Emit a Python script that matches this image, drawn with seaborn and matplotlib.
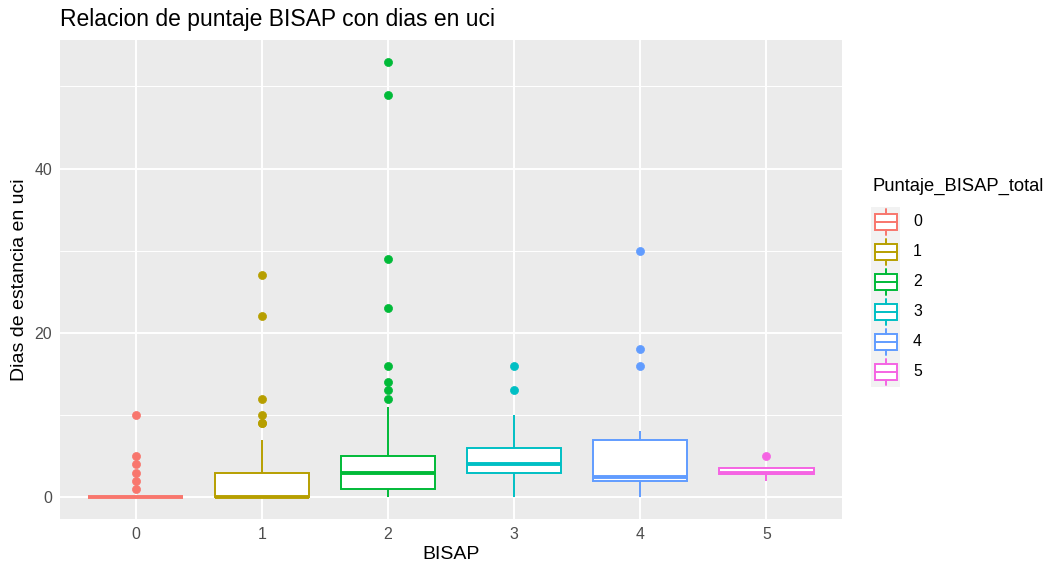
import numpy as np
import pandas as pd
import matplotlib
matplotlib.use("Agg")
import matplotlib.pyplot as plt
from matplotlib.ticker import FixedLocator
from matplotlib.patches import Rectangle
from matplotlib.lines import Line2D
import seaborn as sns

# ---------------- data ----------------
categories = ["0", "1", "2", "3", "4", "5"]
colors = ["#F8766D", "#B79F00", "#00BA38", "#00BFC4", "#619CFF", "#F564E3"]

dias_0 = [0, 0, 0, 0, 0, 0, 0, 0, 0, 0, 0, 0, 0, 0, 0, 0, 0, 0, 0, 0,
          0, 0, 0, 0, 0, 0, 0, 0, 0, 0, 1, 2, 3, 4, 5, 10]
dias_1 = [0, 0, 0, 0, 0, 0, 0, 0, 0, 0, 0, 0, 0, 0, 0, 0, 0, 0, 0, 0, 0,
          1, 1, 1, 2, 2, 2, 3, 3, 3, 3, 4, 5, 7, 9, 9, 10, 12, 22, 27]
dias_2 = [0, 0, 0, 0, 0, 0, 0, 0, 0, 0,
          1, 1, 1, 1, 1, 1, 1, 1, 1, 1,
          2, 2, 2, 2, 2, 2, 2, 2,
          3, 3, 3, 3, 3, 3, 3, 3, 3, 3,
          4, 4, 4, 4, 4, 4,
          5, 5, 5, 5,
          6, 7, 8, 9, 11, 12, 13, 14, 16, 23, 29, 49, 53]
dias_3 = [0, 1, 2, 3, 3, 3, 3, 4, 4, 4, 4, 4, 4, 5, 5, 6, 6, 6, 6,
          7, 8, 9, 10, 13, 16]
dias_4 = [0, 2, 2, 2, 2, 2, 2, 3, 4, 4, 8, 16, 18, 30]
dias_5 = [2, 2.75, 3, 3, 3.5, 3.5, 5]

groups = [dias_0, dias_1, dias_2, dias_3, dias_4, dias_5]

title = "Relacion de puntaje BISAP con dias en uci"
x_label = "BISAP"
y_label = "Dias de estancia en uci"
legend_title = "Puntaje_BISAP_total"
y_ticks = [0, 20, 40]
y_minor = [10, 30, 50]

df = pd.DataFrame({
    "BISAP": [c for c, g in zip(categories, groups) for _ in g],
    "dias": [v for g in groups for v in g],
})

# ---------------- style ----------------
sns.set_theme(style="white")
plt.rcParams["font.family"] = ["Liberation Sans", "DejaVu Sans"]

W, H = 1052, 567
fig = plt.figure(figsize=(W / 100, H / 100), dpi=100)
fig.patch.set_facecolor("white")
ax = fig.add_axes([60 / W, 1 - 519 / H, (842 - 60) / W, (519 - 40) / H])
ax.set_facecolor("#EBEBEB")

palette = dict(zip(categories, colors))
sns.boxplot(data=df, x="BISAP", y="dias", hue="BISAP", order=categories,
            hue_order=categories, palette=palette, saturation=1, width=0.75,
            dodge=False, linewidth=1.4, showcaps=False, legend=False, ax=ax,
            flierprops=dict(marker="o", markersize=5.8),
            medianprops=dict(linewidth=2.8))

# ggplot-like boxes: white fill, coloured outline/whiskers/median/outliers
for p in ax.patches:
    fc = p.get_facecolor()
    p.set_edgecolor(fc)
    p.set_facecolor("white")
    p.set_linewidth(1.4)
for ln in ax.lines:
    xd = np.asarray(ln.get_xdata(), dtype=float)
    if xd.size == 0:
        continue
    idx = int(round(float(np.mean(xd))))
    if 0 <= idx < len(colors):
        c = colors[idx]
        ln.set_color(c)
        if ln.get_marker() == "o":
            ln.set_markerfacecolor(c)
            ln.set_markeredgecolor(c)
            ln.set_markeredgewidth(0.5)

ax.set_xlim(-0.6, 5.6)
ax.set_ylim(-2.65, 55.65)
ax.set_yticks(y_ticks)
ax.yaxis.set_minor_locator(FixedLocator(y_minor))
ax.set_axisbelow(True)
ax.grid(which="major", color="white", linewidth=1.4)
ax.grid(which="minor", axis="y", color="white", linewidth=0.7)
for s in ax.spines.values():
    s.set_visible(False)
ax.tick_params(which="major", length=3.5, width=1.0, color="#333333",
               labelcolor="#4D4D4D", labelsize=11.4, pad=2)
ax.tick_params(which="minor", length=0)
ax.set_xlabel(x_label, fontsize=14, color="black", labelpad=3)
ax.set_ylabel(y_label, fontsize=14, color="black", labelpad=5)
ax.set_title(title, loc="left", fontsize=16.5, color="black", pad=10)


# ---------------- legend (ggplot style) ----------------
def fx(px):
    return px / W


def fy(py):
    return 1 - py / H


fig.text(fx(872), fy(186), legend_title, fontsize=13.2, ha="left",
         va="center", color="black")
for i, (cat, col) in enumerate(zip(categories, colors)):
    c = 222 + 30 * i
    fig.add_artist(Rectangle((fx(871), fy(c + 15)), fx(900) - fx(871),
                             fy(c - 15) - fy(c + 15), transform=fig.transFigure,
                             facecolor="#F2F2F2", edgecolor="none"))
    fig.add_artist(Rectangle((fx(875), fy(c + 8)), fx(897) - fx(875),
                             fy(c - 8) - fy(c + 8), transform=fig.transFigure,
                             facecolor="white", edgecolor=col, linewidth=1.4))
    fig.add_artist(Line2D([fx(875), fx(897)], [fy(c), fy(c)],
                          transform=fig.transFigure, color=col, linewidth=1.4))
    fig.add_artist(Line2D([fx(886), fx(886)], [fy(c - 8), fy(c - 13)],
                          transform=fig.transFigure, color=col, linewidth=1.4))
    fig.add_artist(Line2D([fx(886), fx(886)], [fy(c + 8), fy(c + 13)],
                          transform=fig.transFigure, color=col, linewidth=1.4))
    fig.text(fx(913), fy(c), cat, fontsize=11.4, ha="left", va="center",
             color="black")

fig.savefig("out.png", dpi=100)
